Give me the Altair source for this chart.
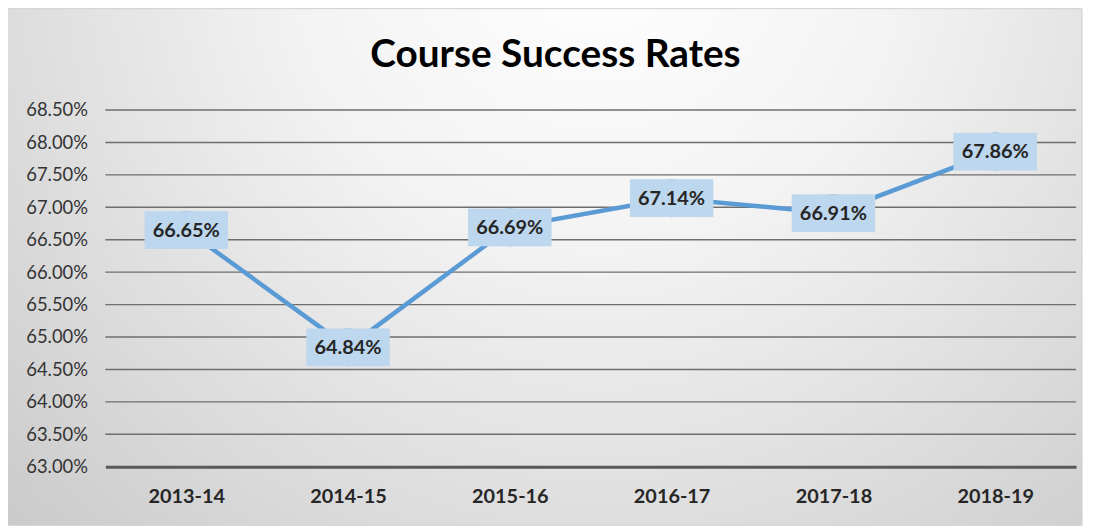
import altair as alt
import pandas as pd

years = ["2013-14", "2014-15", "2015-16", "2016-17", "2017-18", "2018-19"]
rates = [66.65, 64.84, 66.69, 67.14, 66.91, 67.86]
y_ticks = [63.0, 63.5, 64.0, 64.5, 65.0, 65.5, 66.0, 66.5, 67.0, 67.5, 68.0, 68.5]
title_text = "Course Success Rates"

df = pd.DataFrame({"year": years, "rate": rates})
df["label"] = [f"{v:.2f}%" for v in rates]
grid_df = pd.DataFrame({"tick": y_ticks[1:]})

W, H = 977, 359
FONT = "Lato"
BLUE = "#5B9BD5"

y_scale = alt.Scale(domain=[63, 68.5], nice=False, zero=False)
y_axis = alt.Axis(values=y_ticks, labelExpr="format(datum.value, '.2f') + '%'",
                  labelFont=FONT, labelFontSize=18.5, labelColor="#333333",
                  labelPadding=18, ticks=False, domain=False, grid=False, zindex=1)

x_enc = alt.X("year:N", sort=years, title=None,
              scale=alt.Scale(type="point", padding=0.5),
              axis=alt.Axis(labelFont=FONT, labelFontWeight="bold", labelFontSize=20,
                            labelColor="#262626", labelPadding=20, ticks=False,
                            domainColor="#595959", domainWidth=3, labelAngle=0, zindex=1))
y_enc = alt.Y("rate:Q", title=None, scale=y_scale, axis=y_axis)

bg = alt.Chart(pd.DataFrame({"a": [0]})).mark_rect(
    fill=alt.RadialGradient(
        gradient="radial",
        stops=[alt.GradientStop(color="#FFFFFF", offset=0),
               alt.GradientStop(color="#F3F3F3", offset=0.35),
               alt.GradientStop(color="#C8C8C8", offset=1)],
        x1=0.55, y1=0.2, r1=0, x2=0.55, y2=0.2, r2=0.8),
    stroke="#D0D0D0", strokeWidth=1
).encode(x=alt.value(-99), x2=alt.value(W + 6), y=alt.value(-102), y2=alt.value(H + 59))

grid = alt.Chart(grid_df).mark_rule(color="#6E6E6E", strokeWidth=1.4).encode(
    y=alt.Y("tick:Q", scale=y_scale, title=None, axis=y_axis), x=alt.value(0), x2=alt.value(W))

title = alt.Chart(pd.DataFrame({"t": [title_text]})).mark_text(
    font=FONT, fontWeight="bold", fontSize=39, color="#000000", baseline="middle", align="center"
).encode(text="t:N", x=alt.value(453), y=alt.value(-55))

base = alt.Chart(df)
line = base.mark_line(color=BLUE, strokeWidth=4.5).encode(x=x_enc, y=y_enc)
dots = base.mark_point(filled=True, color=BLUE, opacity=1, size=1450, shape="circle").encode(x=x_enc, y=y_enc)
boxes = base.mark_point(filled=True, color="#BDD7EE", opacity=1, size=7056,
                        shape="M-1,-0.4524L1,-0.4524L1,0.4524L-1,0.4524Z").encode(x=x_enc, y=y_enc)
labels = base.mark_text(font=FONT, fontWeight="bold", fontSize=20, color="#262626",
                        baseline="middle", dy=1).encode(x=x_enc, y=y_enc, text="label:N")

chart = alt.layer(bg, grid, title, line, dots, boxes, labels).properties(
    width=W, height=H,
    autosize=alt.AutoSizeParams(type="none"),
    padding={"left": 98, "top": 101, "right": 12, "bottom": 62},
).configure(background="#FFFFFF").configure_view(stroke=None)

chart.save("out.html", embed_options={"renderer": "svg", "actions": False})
